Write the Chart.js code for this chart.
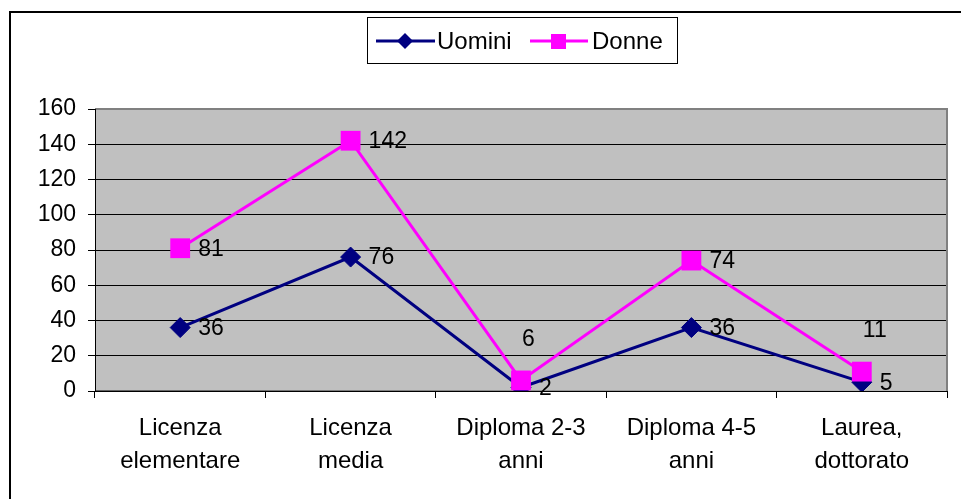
<!DOCTYPE html>
<html>
<head>
<meta charset="utf-8">
<script src="https://cdn.jsdelivr.net/npm/chart.js@4/dist/chart.umd.min.js"></script>
<style>
    html, body { margin: 0; padding: 0; background: #fff; }
    #wrap { width: 961px; height: 499px; position: relative; }
</style>
</head>
<body>
<div id="wrap"><canvas id="chart" width="961" height="499"></canvas></div>
<script>
// Data
const categories = [
    ['Licenza', 'elementare'],
    ['Licenza', 'media'],
    ['Diploma 2-3', 'anni'],
    ['Diploma 4-5', 'anni'],
    ['Laurea,', 'dottorato'],
];
const seriesNames = ['Uomini', 'Donne'];
const uomini = [36, 76, 2, 36, 5];
const donne = [81, 142, 6, 74, 11];
const yMin = 0;
const yMax = 160;
const yStep = 20;

// label placement: 'above' where the reference lifts the label
const donneLabelPos = ['right', 'right', 'above', 'right', 'above'];

const NAVY = '#000080';
const MAGENTA = '#FF00FF';
const FONT = '"Liberation Sans", Arial, sans-serif';
const TEXT_SIZE = 23;

// Gray plot area, frame and border
const backdrop = {
    id: 'backdrop',
    beforeDraw(chart) {
        const { ctx, chartArea: a } = chart;
        ctx.save();
        ctx.fillStyle = '#fff';
        ctx.fillRect(0, 0, chart.width, chart.height);
        ctx.fillStyle = '#C0C0C0';
        ctx.fillRect(a.left, a.top, a.right - a.left, a.bottom - a.top);
        ctx.restore();
    },
    beforeDatasetsDraw(chart) {
        const { ctx, chartArea: a } = chart;
        ctx.save();
        ctx.strokeStyle = '#808080';
        ctx.lineWidth = 2;
        ctx.beginPath();
        ctx.moveTo(a.left, a.top);
        ctx.lineTo(a.right, a.top);
        ctx.lineTo(a.right, a.bottom);
        ctx.stroke();
        ctx.strokeStyle = '#000';
        ctx.lineWidth = 1;
        ctx.beginPath();
        ctx.moveTo(a.left + 0.5, a.top);
        ctx.lineTo(a.left + 0.5, a.bottom);
        ctx.lineTo(a.right, a.bottom + 0.5);
        ctx.stroke();
        ctx.restore();
    },
    afterDraw(chart) {
        const ctx = chart.ctx;
        ctx.save();
        ctx.strokeStyle = '#000';
        ctx.lineWidth = 2;
        ctx.beginPath();
        ctx.moveTo(10, chart.height);
        ctx.lineTo(10, 12);
        ctx.lineTo(chart.width, 12);
        ctx.stroke();
        ctx.restore();
    },
};

// Value labels next to the points
const valueLabels = {
    id: 'valueLabels',
    afterDatasetsDraw(chart) {
        const ctx = chart.ctx;
        ctx.save();
        ctx.font = TEXT_SIZE + 'px ' + FONT;
        ctx.fillStyle = '#000';
        ctx.textBaseline = 'middle';
        ctx.textAlign = 'left';
        chart.data.datasets.forEach((ds, i) => {
            const meta = chart.getDatasetMeta(i);
            meta.data.forEach((pt, j) => {
                const pos = ds.labelPos ? ds.labelPos[j] : 'right';
                if (pos === 'above') {
                    ctx.fillText(String(ds.data[j]), pt.x + 1, pt.y - 41);
                } else {
                    ctx.fillText(String(ds.data[j]), pt.x + 18, pt.y + 1);
                }
            });
        });
        ctx.restore();
    },
};

// Legend box with line + marker samples
const legendBox = {
    id: 'legendBox',
    afterDraw(chart) {
        const ctx = chart.ctx;
        ctx.save();
        ctx.strokeStyle = '#000';
        ctx.lineWidth = 1;
        ctx.strokeRect(367.5, 17.5, 310, 46);
        ctx.font = '24px ' + FONT;
        ctx.textBaseline = 'middle';
        ctx.fillStyle = '#000';

        const cy = 41;
        // Uomini
        ctx.strokeStyle = NAVY;
        ctx.lineWidth = 3;
        ctx.beginPath();
        ctx.moveTo(376, cy);
        ctx.lineTo(435, cy);
        ctx.stroke();
        ctx.fillStyle = NAVY;
        ctx.beginPath();
        ctx.moveTo(405, cy - 8);
        ctx.lineTo(413, cy);
        ctx.lineTo(405, cy + 8);
        ctx.lineTo(397, cy);
        ctx.closePath();
        ctx.fill();
        ctx.fillStyle = '#000';
        ctx.fillText(seriesNames[0], 437, cy + 1);

        // Donne
        ctx.strokeStyle = MAGENTA;
        ctx.beginPath();
        ctx.moveTo(530, cy);
        ctx.lineTo(588, cy);
        ctx.stroke();
        ctx.fillStyle = MAGENTA;
        ctx.fillRect(551, cy - 7, 15, 15);
        ctx.fillStyle = '#000';
        ctx.fillText(seriesNames[1], 592, cy + 1);
        ctx.restore();
    },
};

const ctx = document.getElementById('chart').getContext('2d');
new Chart(ctx, {
    type: 'line',
    data: {
        labels: categories,
        datasets: [
            {
                label: seriesNames[0],
                data: uomini,
                borderColor: NAVY,
                backgroundColor: NAVY,
                borderWidth: 3,
                pointStyle: 'rectRot',
                pointRadius: 10,
                pointBorderWidth: 1,
                pointBackgroundColor: NAVY,
                pointBorderColor: NAVY,
                tension: 0,
                order: 2,
            },
            {
                label: seriesNames[1],
                data: donne,
                labelPos: donneLabelPos,
                borderColor: MAGENTA,
                backgroundColor: MAGENTA,
                borderWidth: 3,
                pointStyle: 'rect',
                pointRadius: 14,
                pointBorderWidth: 0,
                pointBackgroundColor: MAGENTA,
                pointBorderColor: MAGENTA,
                tension: 0,
                order: 1,
            },
        ],
    },
    options: {
        responsive: false,
        animation: false,
        events: [],
        layout: {
            padding: { top: 109, right: 10, left: 0, bottom: 0 },
        },
        plugins: {
            legend: { display: false },
            tooltip: { enabled: false },
        },
        scales: {
            x: {
                offset: true,
                grid: {
                    offset: true,
                    drawOnChartArea: false,
                    drawTicks: true,
                    tickLength: 7,
                    color: '#000',
                },
                border: { display: false },
                ticks: {
                    color: '#000',
                    padding: 14,
                    maxRotation: 0,
                    autoSkip: false,
                    font: { family: FONT, size: 24, lineHeight: 1.36 },
                },
                afterFit(scale) {
                    scale.height = 108;
                },
            },
            y: {
                min: yMin,
                max: yMax,
                grid: {
                    color: '#000',
                    lineWidth: 1,
                    drawTicks: true,
                    tickLength: 7,
                },
                border: { display: false },
                ticks: {
                    stepSize: yStep,
                    color: '#000',
                    padding: 12,
                    font: { family: FONT, size: TEXT_SIZE },
                },
                afterFit(scale) {
                    scale.width = 95;
                },
            },
        },
    },
    plugins: [backdrop, valueLabels, legendBox],
});
</script>
</body>
</html>
